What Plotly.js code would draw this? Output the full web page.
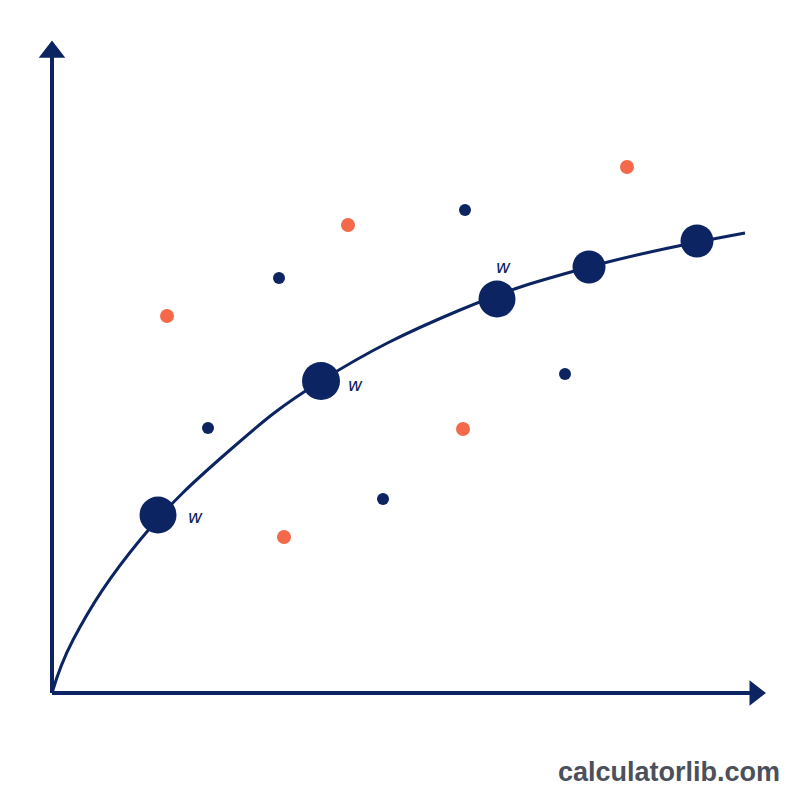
<!DOCTYPE html>
<html><head><meta charset="utf-8">
<script src="https://cdn.plot.ly/plotly-3.0.1.min.js"></script>
<style>html,body{margin:0;padding:0;background:#fff}#c{width:800px;height:800px}</style>
</head><body><div id="c"></div>
<script>
// values measured from origin (x right, y up)
const curveX = [0, 21, 88, 178, 269, 408, 537, 693];
const curveY = [0, 53, 153, 243, 312, 383, 426, 460];
const bigX = [106, 269, 445, 537, 645];
const bigY = [178, 312, 394, 426, 452];
const bigSize = [37, 38, 37, 33, 33];
const navyX = [156, 227, 331, 413, 513];
const navyY = [265, 415, 194, 483, 319];
const orangeX = [115, 296, 232, 411, 575];
const orangeY = [377, 468, 156, 264, 526];
const labelX = [143, 303, 451];
const labelY = [175, 307, 425];
const labelText = ['w', 'w', 'w'];
const axisEndX = 713, axisEndY = 655;

const navy = '#0c2461';
const orange = '#f4694a';

const traces = [
  {x:[0,0], y:[0,axisEndY-14], mode:'lines', line:{color:navy,width:4}, hoverinfo:'skip'},
  {x:[0,axisEndX-10], y:[0,0], mode:'lines', line:{color:navy,width:4}, hoverinfo:'skip'},
  {x:[0], y:[axisEndY-14], mode:'markers', marker:{symbol:'triangle-up', size:23, color:navy, opacity:1}, hoverinfo:'skip'},
  {x:[axisEndX-10], y:[0], mode:'markers', marker:{symbol:'triangle-right', size:22, color:navy, opacity:1}, hoverinfo:'skip'},
  {x:curveX, y:curveY, mode:'lines', line:{color:navy,width:3,shape:'spline',smoothing:1.2}, hoverinfo:'skip'},
  {x:navyX, y:navyY, mode:'markers', marker:{size:12,color:navy,opacity:1}},
  {x:orangeX, y:orangeY, mode:'markers', marker:{size:14,color:orange,opacity:1}},
  {x:bigX, y:bigY, mode:'markers', marker:{size:bigSize,color:navy,opacity:1,line:{width:0}}},
  {x:labelX, y:labelY, mode:'text', text:labelText, textposition:'middle center',
   textfont:{family:'DejaVu Sans, sans-serif', size:18, color:navy, style:'italic'}}
];

const layout = {
  width:800, height:800, showlegend:false,
  margin:{l:0,r:0,t:0,b:0},
  paper_bgcolor:'#ffffff', plot_bgcolor:'#ffffff',
  xaxis:{range:[-52,748], visible:false, fixedrange:true},
  yaxis:{range:[-107,693], visible:false, fixedrange:true},
  annotations:[{text:'<b>calculatorlib.com</b>', xref:'paper', yref:'paper', x:0.978, y:0.035,
    xanchor:'right', yanchor:'middle', showarrow:false,
    font:{family:'Liberation Sans, Arial, sans-serif', size:27, color:'#4b505b'}}]
};
Plotly.newPlot('c', traces, layout, {displayModeBar:false, staticPlot:true});
</script></body></html>
